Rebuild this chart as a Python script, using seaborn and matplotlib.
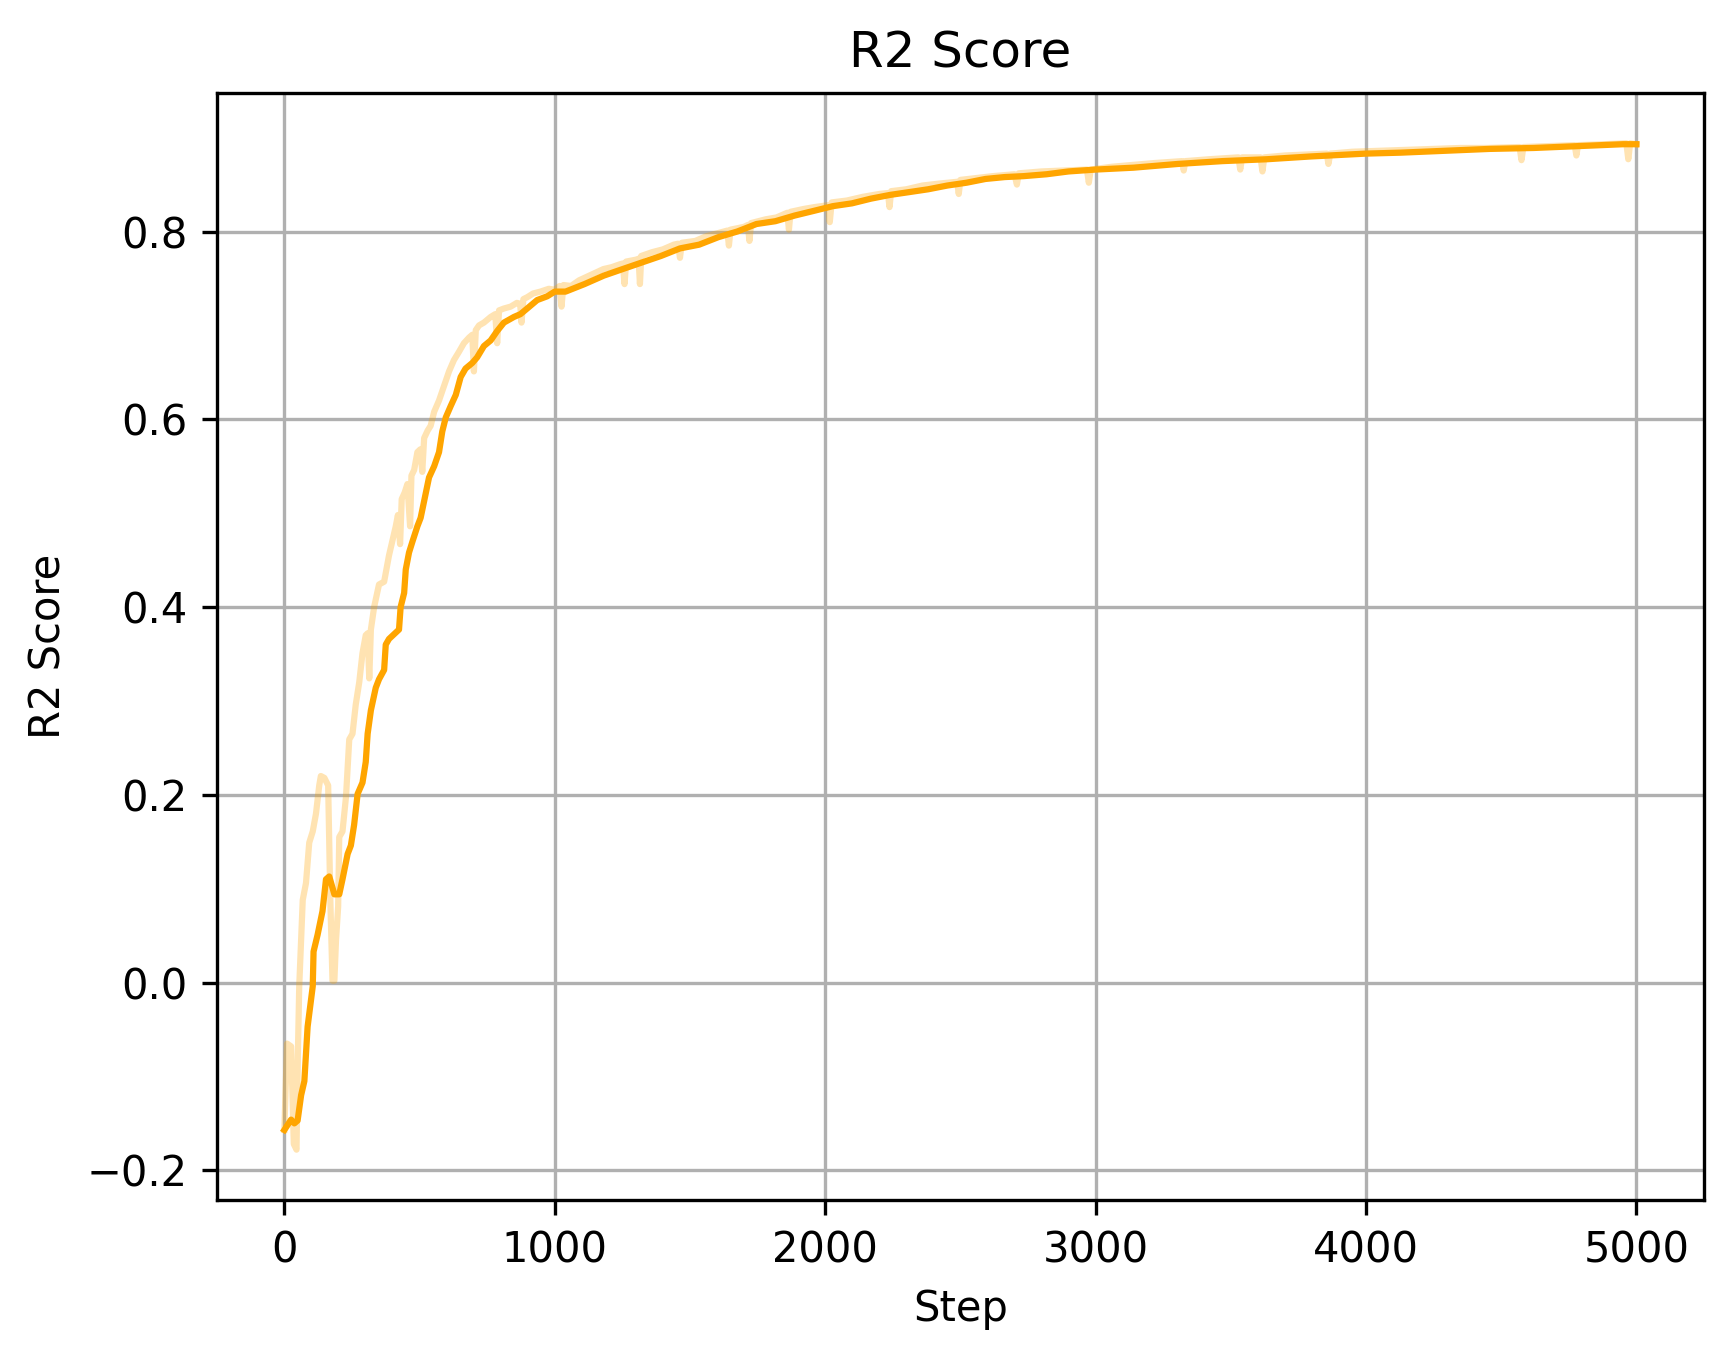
import numpy as np
import pandas as pd
import matplotlib
matplotlib.use("Agg")
import matplotlib.pyplot as plt
import seaborn as sns

# Raw R2 score (light line)
raw_steps = [0, 10, 25, 35, 45, 50, 55, 68, 80, 92, 105, 117, 129, 135, 148, 162, 170, 178, 185, 191,
             199, 203, 215, 228, 240, 252, 264, 277, 289, 301, 308, 314, 320, 332, 350, 369, 387, 412, 420, 428,
             434, 445, 455, 465, 470, 480, 492, 503, 510, 517, 530, 541, 554, 572, 590, 609, 627, 646, 664, 683,
             695, 701, 708, 720, 738, 763, 780, 787, 794, 812, 837, 860, 872, 877, 884, 898, 920, 947, 978, 1000,
             1018, 1025, 1032, 1060, 1090, 1120, 1150, 1180, 1210, 1240, 1252, 1258, 1264, 1300, 1310, 1315, 1320, 1360, 1400, 1440,
             1456, 1463, 1470, 1520, 1560, 1600, 1638, 1644, 1650, 1700, 1714, 1720, 1726, 1780, 1820, 1860, 1866, 1872, 1920, 1960,
             2010, 2017, 2024, 2080, 2140, 2200, 2232, 2238, 2244, 2300, 2360, 2420, 2488, 2494, 2500, 2560, 2620, 2700, 2709, 2716,
             2800, 2880, 2968, 2975, 2982, 3060, 3140, 3220, 3320, 3326, 3332, 3420, 3528, 3535, 3542, 3610, 3617, 3624, 3700, 3780,
             3855, 3861, 3868, 3950, 4050, 4150, 4250, 4350, 4450, 4568, 4575, 4582, 4680, 4772, 4778, 4784, 4880, 4963, 4970, 4977,
             5000]
raw_r2 = [-0.157, -0.065, -0.068, -0.172, -0.178, -0.077, -0.004, 0.088, 0.106, 0.149, 0.161, 0.18, 0.21, 0.22, 0.218, 0.21, 0.088, 0.002, 0.002, 0.045,
          0.081, 0.155, 0.161, 0.198, 0.259, 0.265, 0.296, 0.32, 0.351, 0.37, 0.372, 0.324, 0.376, 0.4, 0.424, 0.427, 0.455, 0.486, 0.498, 0.467,
          0.515, 0.522, 0.531, 0.486, 0.54, 0.546, 0.565, 0.568, 0.544, 0.58, 0.588, 0.593, 0.608, 0.62, 0.635, 0.651, 0.663, 0.672, 0.681, 0.687,
          0.69, 0.651, 0.695, 0.7, 0.703, 0.709, 0.712, 0.681, 0.716, 0.718, 0.72, 0.724, 0.723, 0.703, 0.728, 0.73, 0.734, 0.736, 0.739, 0.738,
          0.742, 0.72, 0.743, 0.742, 0.748, 0.752, 0.756, 0.76, 0.762, 0.765, 0.766, 0.744, 0.768, 0.77, 0.771, 0.744, 0.774, 0.778, 0.781, 0.786,
          0.787, 0.772, 0.788, 0.79, 0.795, 0.798, 0.801, 0.785, 0.802, 0.805, 0.807, 0.79, 0.809, 0.813, 0.815, 0.82, 0.802, 0.821, 0.824, 0.826,
          0.828, 0.81, 0.831, 0.833, 0.837, 0.84, 0.841, 0.826, 0.843, 0.845, 0.849, 0.851, 0.853, 0.84, 0.855, 0.857, 0.859, 0.861, 0.85, 0.862,
          0.864, 0.865, 0.866, 0.852, 0.866, 0.869, 0.871, 0.873, 0.875, 0.865, 0.875, 0.877, 0.879, 0.866, 0.879, 0.879, 0.864, 0.879, 0.881, 0.882,
          0.883, 0.872, 0.883, 0.885, 0.886, 0.887, 0.888, 0.889, 0.889, 0.89, 0.876, 0.89, 0.891, 0.892, 0.881, 0.892, 0.893, 0.894, 0.877, 0.894,
          0.893]

# Smoothed R2 score (solid line)
smooth_steps = [0, 25, 37, 49, 62, 74, 86, 105, 108, 123, 141, 154, 166, 185, 203, 215, 234, 246, 258, 271,
                289, 301, 308, 320, 338, 350, 369, 375, 387, 424, 430, 443, 449, 461, 474, 492, 504, 517, 535, 554,
                572, 584, 597, 615, 634, 652, 670, 695, 713, 738, 763, 787, 812, 849, 873, 898, 935, 972, 1000, 1040,
                1110, 1181, 1251, 1322, 1393, 1463, 1534, 1605, 1675, 1746, 1816, 1887, 1958, 2028, 2099, 2169, 2240, 2311, 2381, 2452,
                2523, 2593, 2664, 2734, 2819, 2900, 3000, 3140, 3305, 3469, 3634, 3798, 4000, 4128, 4292, 4457, 4621, 4786, 4951, 5000]
smooth_r2 = [-0.157, -0.146, -0.150, -0.147, -0.12, -0.105, -0.047, -0.004, 0.033, 0.051, 0.076, 0.11, 0.113, 0.094, 0.094, 0.11, 0.137, 0.146, 0.168, 0.201,
             0.213, 0.235, 0.265, 0.29, 0.314, 0.323, 0.333, 0.36, 0.366, 0.376, 0.4, 0.415, 0.44, 0.458, 0.47, 0.486, 0.495, 0.513, 0.538, 0.55,
             0.565, 0.587, 0.602, 0.614, 0.626, 0.645, 0.654, 0.66, 0.666, 0.678, 0.684, 0.694, 0.703, 0.709, 0.712, 0.718, 0.727, 0.731, 0.736, 0.736,
             0.744, 0.753, 0.76, 0.767, 0.774, 0.782, 0.786, 0.794, 0.8, 0.808, 0.811, 0.817, 0.822, 0.827, 0.83, 0.835, 0.839, 0.842, 0.845, 0.849,
             0.852, 0.856, 0.858, 0.859, 0.861, 0.864, 0.866, 0.868, 0.872, 0.875, 0.877, 0.880, 0.883, 0.884, 0.886, 0.888, 0.889, 0.891, 0.893, 0.893]

raw_df = pd.DataFrame({"Step": raw_steps, "R2": raw_r2})
smooth_df = pd.DataFrame({"Step": smooth_steps, "R2": smooth_r2})

fig = plt.figure(figsize=(1734 / 300, 1357 / 300), dpi=300)
ax = fig.add_axes([0.125, 0.1157, 0.8577, 0.8158])

sns.lineplot(data=raw_df, x="Step", y="R2", ax=ax, color="orange", alpha=0.3,
             linewidth=1.5, estimator=None)
sns.lineplot(data=smooth_df, x="Step", y="R2", ax=ax, color="orange",
             linewidth=1.5, estimator=None)

ax.grid(True, color="#b0b0b0", linewidth=0.8)
ax.set_axisbelow(True)
ax.set_title("R2 Score", fontsize=12)
ax.set_xlabel("Step", fontsize=10)
ax.set_ylabel("R2 Score", fontsize=10)
ax.set_xticks([0, 1000, 2000, 3000, 4000, 5000])
ax.set_yticks([-0.2, 0.0, 0.2, 0.4, 0.6, 0.8])

fig.savefig("out.png", dpi=300)
